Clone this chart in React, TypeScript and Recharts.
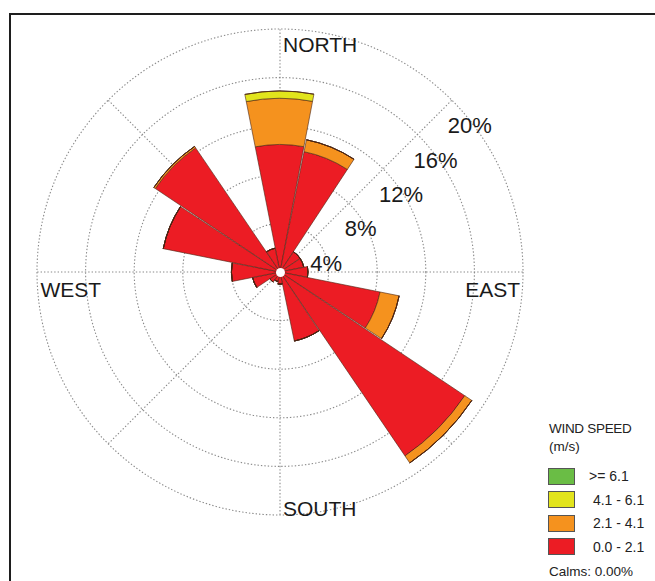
import React from 'react';
import {
  RadialBarChart,
  RadialBar,
  PolarAngleAxis,
  PolarRadiusAxis,
  PolarGrid,
  Legend,
} from 'recharts';

// Sixteen compass sectors, clockwise from north
const directions = ['N', 'NNE', 'NE', 'ENE', 'E', 'ESE', 'SE', 'SSE', 'S', 'SSW', 'SW', 'WSW', 'W', 'WNW', 'NW', 'NNW'];

// Frequency (%) per sector for each wind-speed class (m/s)
const speed0to21 = [10.5, 10.1, 2.0, 2.0, 2.3, 8.4, 18.3, 5.8, 1.0, 0.8, 1.0, 2.3, 4.0, 9.8, 12.35, 2.0];
const speed21to41 = [3.8, 1.0, 0, 0, 0, 1.6, 0.7, 0, 0, 0, 0, 0, 0, 0, 0.15, 0];
const speed41to61 = [0.6, 0, 0, 0, 0, 0, 0, 0, 0, 0, 0, 0, 0, 0, 0, 0];
const speed61up = [0, 0, 0, 0, 0, 0, 0, 0, 0, 0, 0, 0, 0, 0, 0, 0];

// Ring values (%) and compass labels
const radiusTicks = [0, 4, 8, 12, 16, 20];
const cardinalLabels: Record<string, string> = { N: 'NORTH', E: 'EAST', S: 'SOUTH', W: 'WEST' };
const binLabels = ['>= 6.1', ' 4.1 - 6.1', ' 2.1 - 4.1', ' 0.0 - 2.1'];
const calmsLabel = 'Calms: 0.00%';

const COLORS = {
  green: '#6abd45',
  yellow: '#e2e41c',
  orange: '#f5921e',
  red: '#ec1c24',
};
const binColors = [COLORS.green, COLORS.yellow, COLORS.orange, COLORS.red];

const FONT = '"Liberation Sans", Arial, Helvetica, sans-serif';
const BAR_STROKE = '#4a2412';

const data = directions.map((dir, i) => ({
  dir,
  s0: speed0to21[i],
  s1: speed21to41[i],
  s2: speed41to61[i],
  s3: speed61up[i],
}));

// Grid spokes every 45 degrees
const spokeAngles = [90, 45, 0, -45, -90, -135, 180, 135];

const CX = 280;
const CY = 272;
const OUTER = 243;

function CardinalTick(props: any) {
  const { payload, x, y } = props;
  const name = cardinalLabels[payload?.value];
  if (!name) return null;
  const cx = typeof props.cx === 'number' ? props.cx : CX;
  const cy = typeof props.cy === 'number' ? props.cy : CY;
  const dist = Math.hypot(x - cx, y - cy);
  const r = typeof props.radius === 'number' ? props.radius : dist - 8;
  const common = { fontFamily: FONT, fontSize: 21, fill: '#1a1a1a' };
  if (payload.value === 'N') {
    return <text x={cx + 3} y={cy - r + 23} textAnchor="start" {...common}>{name}</text>;
  }
  if (payload.value === 'S') {
    return <text x={cx + 3} y={cy + r + 0.5} textAnchor="start" {...common}>{name}</text>;
  }
  if (payload.value === 'E') {
    return <text x={cx + r - 3} y={cy + 25} textAnchor="end" {...common}>{name}</text>;
  }
  return <text x={cx - r + 3.5} y={cy + 25} textAnchor="start" {...common}>{name}</text>;
}

function PercentTick(props: any) {
  const { payload, x, y } = props;
  if (!payload || !payload.value) return null;
  return (
    <text x={x - 4} y={y + 33} textAnchor="start" fontFamily={FONT} fontSize={22} fill="#1a1a1a">
      {`${payload.value}%`}
    </text>
  );
}

function WindLegend() {
  const rowTop = 52;
  const rowStep = 23.5;
  return (
    <div style={{ position: 'relative', width: 115, height: 166, fontFamily: FONT, color: '#222' }}>
      <div style={{ position: 'absolute', left: 9, top: 6, fontSize: 13.5, letterSpacing: -0.3, whiteSpace: 'pre' }}>WIND SPEED</div>
      <div style={{ position: 'absolute', left: 9, top: 24, fontSize: 13.5, whiteSpace: 'pre' }}>(m/s)</div>
      {binLabels.map((label, i) => (
        <div key={label} style={{ position: 'absolute', left: 8, top: rowTop + i * rowStep, height: 18, display: 'flex', alignItems: 'center' }}>
          <div style={{ width: 27, height: 17, background: binColors[i], border: '0.8px solid #555', boxSizing: 'border-box' }} />
          <div style={{ marginLeft: 14, fontSize: 14, whiteSpace: 'pre' }}>{label}</div>
        </div>
      ))}
      <div style={{ position: 'absolute', left: 9, top: 149, fontSize: 13.5, whiteSpace: 'pre' }}>{calmsLabel}</div>
    </div>
  );
}

export default function App() {
  return (
    <div style={{ position: 'absolute', left: 0, top: 0, width: 655, height: 581, background: '#fff', overflow: 'hidden' }}>
      <div
        style={{
          position: 'absolute',
          left: 9,
          top: 13,
          width: 700,
          height: 700,
          borderTop: '2.5px solid #1e1e1e',
          borderLeft: '2.5px solid #1e1e1e',
        }}
      />
      <div style={{ position: 'absolute', left: 0, top: 0 }}>
        <RadialBarChart
          width={655}
          height={581}
          data={data}
          layout="centric"
          cx={CX}
          cy={CY}
          innerRadius={0}
          outerRadius={OUTER}
          startAngle={78.75}
          endAngle={-281.25}
          barCategoryGap="2%"
          barGap={0}
          margin={{ top: 0, right: 0, bottom: 0, left: 0 }}
        >
          <PolarGrid
            gridType="circle"
            polarAngles={spokeAngles}
            stroke="#8a8a8a"
            strokeWidth={1.1}
            strokeDasharray="1.4 2"
          />
          <PolarAngleAxis
            type="category"
            dataKey="dir"
            axisLine={false}
            tickLine={false}
            tick={<CardinalTick />}
          />
          <PolarRadiusAxis
            type="number"
            domain={[0, 20]}
            ticks={radiusTicks}
            angle={45}
            axisLine={false}
            tickLine={false}
            tick={<PercentTick />}
          />
          <RadialBar dataKey="s0" stackId="wind" fill={COLORS.red} stroke={BAR_STROKE} strokeWidth={0.6} isAnimationActive={false} />
          <RadialBar dataKey="s1" stackId="wind" fill={COLORS.orange} stroke={BAR_STROKE} strokeWidth={0.6} isAnimationActive={false} />
          <RadialBar dataKey="s2" stackId="wind" fill={COLORS.yellow} stroke={BAR_STROKE} strokeWidth={0.6} isAnimationActive={false} />
          <RadialBar dataKey="s3" stackId="wind" fill={COLORS.green} stroke={BAR_STROKE} strokeWidth={0.6} isAnimationActive={false} />
          <Legend
            content={<WindLegend />}
            layout="vertical"
            align="right"
            verticalAlign="bottom"
            wrapperStyle={{ position: 'absolute', left: 540, top: 415, right: 'auto', bottom: 'auto', width: 115 }}
          />
        </RadialBarChart>
      </div>
      <div
        style={{
          position: 'absolute',
          left: CX - 4.5,
          top: CY - 4.5,
          width: 9,
          height: 9,
          borderRadius: '50%',
          background: '#fff',
        }}
      />
    </div>
  );
}
